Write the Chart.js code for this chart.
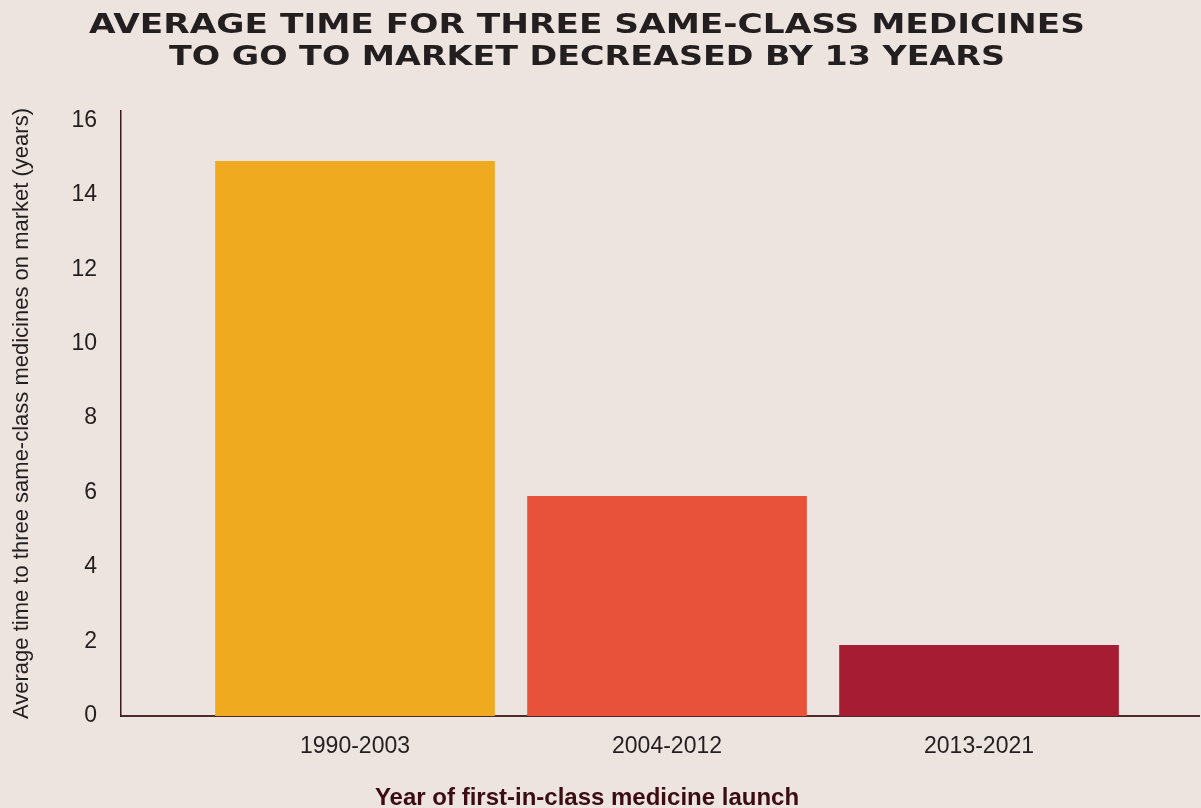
<!DOCTYPE html>
<html>
<head>
<meta charset="utf-8">
<script src="https://cdn.jsdelivr.net/npm/chart.js@4.4.1/dist/chart.umd.min.js"></script>
<style>
  html, body { margin: 0; padding: 0; background: #EDE3DF; }
  #wrap { width: 1201px; height: 808px; }
</style>
</head>
<body>
<div id="wrap"><canvas id="c" width="1201" height="808"></canvas></div>
<script>
const titleLines = ["AVERAGE TIME FOR THREE SAME-CLASS MEDICINES", "TO GO TO MARKET DECREASED BY 13 YEARS"];
const categories = ["1990-2003", "2004-2012", "2013-2021"];
const values = [14.9, 5.9, 1.9];
const barColors = ["#F0AA20", "#E8523A", "#A51C33"];
const yTicks = [0, 2, 4, 6, 8, 10, 12, 14, 16];
const yTitle = "Average time to three same-class medicines on market (years)";
const xTitle = "Year of first-in-class medicine launch";

const BG = "#EDE3DF";
const TEXT = "#231F20";

const bgPlugin = {
  id: "bg",
  beforeDraw(chart) {
    const ctx = chart.ctx;
    ctx.save();
    ctx.fillStyle = BG;
    ctx.fillRect(0, 0, chart.width, chart.height);
    ctx.restore();
  }
};

const textPlugin = {
  id: "texts",
  afterDraw(chart) {
    const ctx = chart.ctx;
    ctx.save();
    ctx.fillStyle = TEXT;
    ctx.textAlign = "center";
    ctx.textBaseline = "alphabetic";
    ctx.font = "bold 26px 'DejaVu Sans'";
    const targets = [996, 836];
    const baselines = [32.5, 64.5];
    const cx = 587;
    titleLines.forEach((line, i) => {
      const w = ctx.measureText(line).width;
      const sx = targets[i] / w;
      ctx.save();
      ctx.translate(cx, baselines[i]);
      ctx.scale(sx, 1);
      ctx.fillText(line, 0, 0);
      ctx.restore();
    });
    ctx.fillStyle = "#3B0D12";
    ctx.font = "bold 24px 'Liberation Sans', Arial, sans-serif";
    ctx.textAlign = "center";
    ctx.fillText(xTitle, 587, 805);
    ctx.restore();
  }
};

new Chart(document.getElementById("c"), {
  type: "bar",
  data: {
    datasets: [{
      data: values.map((v, i) => ({ x: i, y: v })),
      backgroundColor: barColors,
      borderWidth: 0,
      barThickness: 279
    }]
  },
  options: {
    responsive: false,
    animation: false,
    layout: { padding: { top: 111, left: 0, right: 2, bottom: 0 } },
    plugins: { legend: { display: false }, tooltip: { enabled: false }, title: { display: false } },
    scales: {
      x: {
        type: "linear",
        offset: false,
        min: -0.75,
        max: 2.705,
        grid: { display: false, drawTicks: false, offset: false },
        border: { display: true, color: "#4E2A2A", width: 2 },
        afterBuildTicks: (s) => { s.ticks = categories.map((_, i) => ({ value: i })); },
        afterFit: (s) => { s.height = 92; },
        ticks: {
          autoSkip: false,
          maxRotation: 0,
          padding: 17,
          color: TEXT,
          font: { family: "'Liberation Sans', Arial, sans-serif", size: 23 },
          callback: (v) => categories[v] ?? ""
        }
      },
      y: {
        min: 0,
        max: 16.25,
        grid: { display: false, drawTicks: false },
        border: { display: true, color: "#3B1A1A", width: 1.5 },
        afterBuildTicks: (s) => { s.ticks = yTicks.map(v => ({ value: v })); },
        afterFit: (s) => { s.width = 121; },
        ticks: {
          padding: 24,
          color: TEXT,
          font: { family: "'Liberation Sans', Arial, sans-serif", size: 23 }
        },
        title: {
          display: true,
          text: yTitle,
          color: TEXT,
          padding: { top: 9, bottom: 0 },
          font: { family: "'Liberation Sans', Arial, sans-serif", size: 22 }
        }
      }
    }
  },
  plugins: [bgPlugin, textPlugin]
});
</script>
</body>
</html>
